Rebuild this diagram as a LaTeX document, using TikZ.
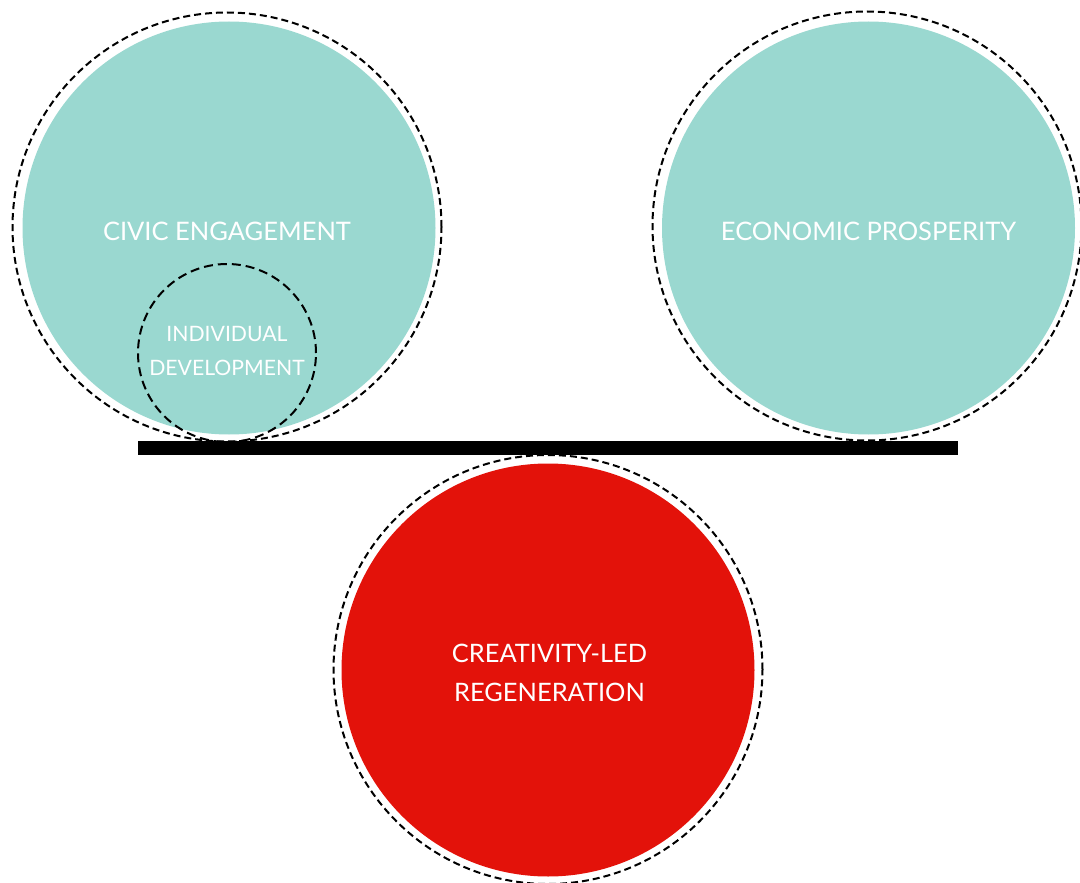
\documentclass[tikz,border=0pt]{standalone}
\usepackage{fontspec}
\setmainfont{Lato}
\definecolor{turquoise}{RGB}{154,216,208}
\definecolor{rouge}{RGB}{227,18,10}
\begin{document}
\begin{tikzpicture}[x=1pt,y=-1pt]
	% Styles
	\tikzstyle{bulle}=[circle,inner sep=0pt,minimum size=413pt]
	\tikzstyle{anneau}=[circle,inner sep=0pt,minimum size=429pt,draw=black,line width=2pt,dash pattern=on 7pt off 4pt]
	\tikzstyle{petitanneau}=[circle,inner sep=0pt,minimum size=178pt,draw=black,line width=2pt,dash pattern=on 9pt off 5pt]
	\tikzstyle{texte}=[text=white,align=center,inner sep=0pt]
	\tikzstyle{barre}=[-,line width=14pt]
	% Polices
	\def\GrandTexte{\fontsize{25.5}{30}\selectfont}
	\def\MoyenTexte{\fontsize{25.4}{39}\selectfont}
	\def\PetitTexte{\fontsize{21.2}{34}\selectfont}
	\useasboundingbox (0,0) rectangle (1080,883);
	% Cercles
	\node[bulle,fill=turquoise] (civique) at (229,228) {};
	\node[anneau] (civiqueR) at (227,227) {};
	\node[petitanneau] (individu) at (227,353) {};
	\node[bulle,fill=turquoise] (economie) at (868.5,228) {};
	\node[anneau] (economieR) at (867,226) {};
	\node[bulle,fill=rouge] (creativite) at (548,670) {};
	\node[anneau] (creativiteR) at (548,669.5) {};
	% Textes
	\node[texte,font=\GrandTexte] (civiqueT) at (227,231) {CIVIC ENGAGEMENT};
	\node[texte,font=\PetitTexte] (individuT) at (227,351) {INDIVIDUAL\\DEVELOPMENT};
	\node[texte,font=\GrandTexte] (economieT) at (868.5,231) {ECONOMIC PROSPERITY};
	\node[texte,font=\MoyenTexte] (creativiteT) at (549.5,673) {CREATIVITY-LED\\REGENERATION};
	% Barre
	\coordinate (barreG) at (138,448);
	\coordinate (barreD) at (958,448);
	\draw[barre] (barreG)--(barreD);
\end{tikzpicture}
\end{document}
